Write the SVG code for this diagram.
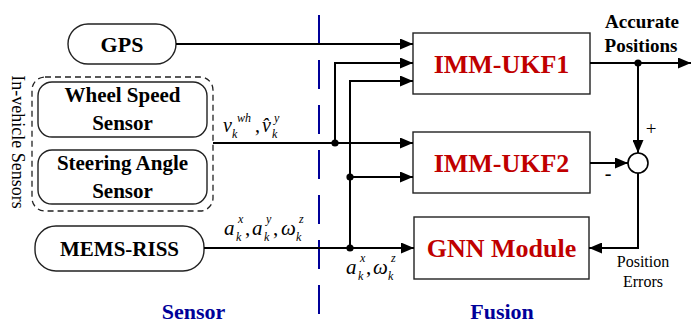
<svg xmlns="http://www.w3.org/2000/svg" width="691" height="324" viewBox="0 0 691 324">
<defs>
<marker id="ah" markerUnits="userSpaceOnUse" markerWidth="13" markerHeight="11" refX="13" refY="5.5" orient="auto">
<path d="M0,0 L13,5.5 L0,11 z" fill="#000"/>
</marker>
<style>
.box{fill:#fff;stroke:#222;stroke-width:1.4}
.pill{fill:#fff;stroke:#222;stroke-width:1.4}
.bt{font-family:"Liberation Serif","Times New Roman",serif;font-weight:bold;fill:#000;text-anchor:middle}
.rt{font-family:"Liberation Serif","Times New Roman",serif;font-weight:bold;fill:#c00000;text-anchor:middle;font-size:26px}
.bl{font-family:"Liberation Serif","Times New Roman",serif;font-weight:bold;fill:#000099;text-anchor:middle;font-size:22px}
.nt{font-family:"Liberation Serif","Times New Roman",serif;fill:#000}
.mi{font-family:"Liberation Serif","Times New Roman",serif;font-style:italic;fill:#000}
.ln{fill:none;stroke:#000;stroke-width:2}
.arr{marker-end:url(#ah)}
.dot{fill:#000}
</style>
</defs>
<rect width="691" height="324" fill="#fff"/>

<!-- divider -->
<line x1="319" y1="15" x2="319" y2="316" stroke="#000099" stroke-width="2" stroke-dasharray="29,16"/>

<g id="invehicle">
<rect x="32" y="77" width="181" height="134" rx="13" fill="none" stroke="#222" stroke-width="1.3" stroke-dasharray="6,4"/>
<text class="nt" font-size="18" text-anchor="middle" transform="translate(12,142) rotate(90)">In-vehicle Sensors</text>
</g>

<g id="gps">
<rect class="pill" x="68" y="24" width="108" height="40" rx="20"/>
<text class="bt" x="122" y="52" font-size="22">GPS</text>
</g>

<g id="wheel">
<rect class="pill" x="38" y="82" width="169" height="55" rx="14"/>
<text class="bt" x="122.5" y="102" font-size="21">Wheel Speed</text>
<text class="bt" x="122.5" y="130" font-size="21">Sensor</text>
</g>

<g id="steering">
<rect class="pill" x="38" y="150" width="169" height="54" rx="14"/>
<text class="bt" x="122.5" y="170" font-size="21">Steering Angle</text>
<text class="bt" x="122.5" y="198" font-size="21">Sensor</text>
</g>

<g id="mems">
<rect class="pill" x="35" y="226" width="169" height="45" rx="21"/>
<text class="bt" x="119.5" y="256" font-size="21">MEMS-RISS</text>
</g>

<g id="ukf1">
<rect class="box" x="413" y="33" width="177" height="61"/>
<text class="rt" x="501.5" y="73">IMM-UKF1</text>
</g>

<g id="ukf2">
<rect class="box" x="413" y="132" width="177" height="61"/>
<text class="rt" x="501.5" y="172">IMM-UKF2</text>
</g>

<g id="gnn">
<rect class="box" x="414" y="217" width="175" height="62"/>
<text class="rt" x="501.5" y="257">GNN Module</text>
</g>

<g id="sum">
<circle cx="638" cy="163" r="10" fill="#fff" stroke="#000" stroke-width="1.6"/>
<text class="nt" x="651" y="135" font-size="19" text-anchor="middle">+</text>
<text class="nt" x="608" y="180" font-size="20" text-anchor="middle">-</text>
</g>

<g id="connectors">
<path class="ln arr" d="M176,44 H413"/>
<path class="ln arr" d="M335,143 V63 H413"/>
<path class="ln arr" d="M350,248 V81 H413"/>
<path class="ln arr" d="M213,143 H413"/>
<path class="ln arr" d="M350,177 H413"/>
<path class="ln arr" d="M204,248 H414"/>
<path class="ln arr" d="M590,63 H691"/>
<path class="ln arr" d="M638,63 V153"/>
<path class="ln arr" d="M590,163 H628"/>
<path class="ln arr" d="M638,173 V248 H589"/>
<circle class="dot" cx="335" cy="143" r="3.6"/>
<circle class="dot" cx="350" cy="177" r="3.6"/>
<circle class="dot" cx="350" cy="248" r="3.6"/>
<circle class="dot" cx="638" cy="63" r="3.6"/>
</g>

<g id="labels">
<text class="bt" x="642" y="28" font-size="19">Accurate</text>
<text class="bt" x="641" y="52" font-size="19">Positions</text>
<text class="nt" x="643" y="267" font-size="16" text-anchor="middle">Position</text>
<text class="nt" x="643" y="287" font-size="16" text-anchor="middle">Errors</text>

<text class="mi" font-size="20"><tspan x="223" y="132">v</tspan><tspan x="232" y="138" font-size="12">k</tspan><tspan x="237" y="122" font-size="12">wh</tspan><tspan x="255" y="132" font-style="normal">,</tspan><tspan x="262" y="132">v&#x302;</tspan><tspan x="272" y="138" font-size="12">k</tspan><tspan x="274" y="122" font-size="12">y</tspan></text>

<text class="mi" font-size="21"><tspan x="224" y="235">a</tspan><tspan x="236" y="241" font-size="12">k</tspan><tspan x="238" y="223" font-size="12">x</tspan><tspan x="245" y="235" font-style="normal">,</tspan><tspan x="252" y="235">a</tspan><tspan x="264" y="241" font-size="12">k</tspan><tspan x="266" y="223" font-size="12">y</tspan><tspan x="273" y="235" font-style="normal">,</tspan><tspan x="281" y="235">ω</tspan><tspan x="296" y="241" font-size="12">k</tspan><tspan x="299" y="223" font-size="12">z</tspan></text>

<text class="mi" font-size="21"><tspan x="346" y="274">a</tspan><tspan x="358" y="280" font-size="12">k</tspan><tspan x="360" y="262" font-size="12">x</tspan><tspan x="366" y="274" font-style="normal">,</tspan><tspan x="373" y="274">ω</tspan><tspan x="388" y="280" font-size="12">k</tspan><tspan x="391" y="262" font-size="12">z</tspan></text>

<text class="bl" x="193.5" y="319">Sensor</text>
<text class="bl" x="502" y="319">Fusion</text>
</g>
</svg>
